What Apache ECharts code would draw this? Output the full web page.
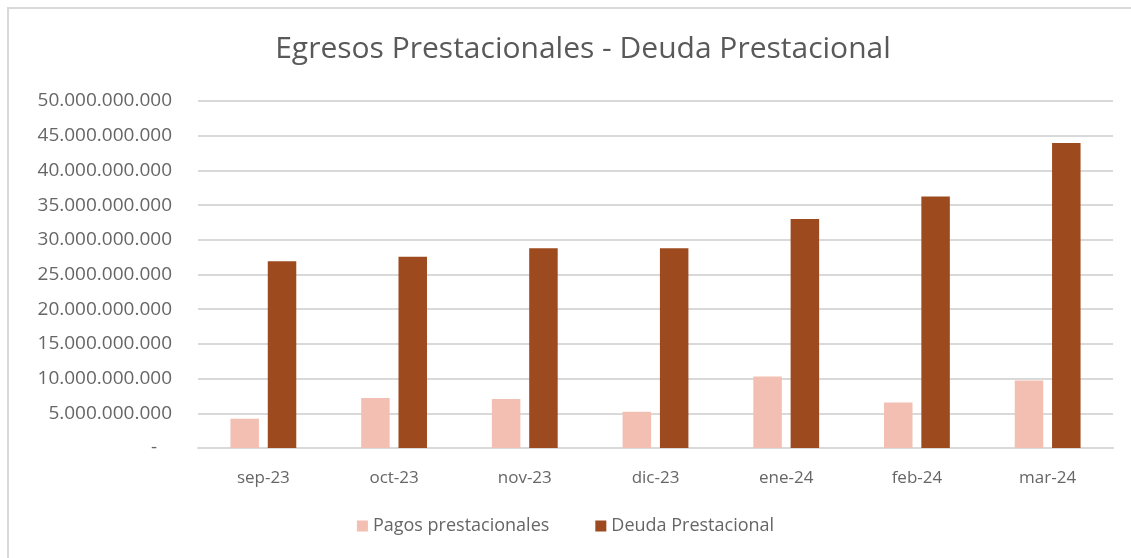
<!DOCTYPE html>
<html>
<head>
<meta charset="utf-8">
<title>Egresos Prestacionales - Deuda Prestacional</title>
<script src="https://cdn.jsdelivr.net/npm/echarts@6/dist/echarts.min.js"></script>
<style>
  html, body { margin: 0; padding: 0; background: #fff; }
  #frame {
    position: absolute; left: 7px; top: 7px; width: 1130px; height: 560px;
    border-left: 2px solid #d9d9d9; border-top: 2px solid #d9d9d9;
  }
  #chart { position: absolute; left: 0; top: 0; width: 1131px; height: 558px; }
</style>
</head>
<body>
<div id="frame"></div>
<div id="chart"></div>
<script>
// datos (valores en pesos)
const months = ['sep-23', 'oct-23', 'nov-23', 'dic-23', 'ene-24', 'feb-24', 'mar-24'];
const pagos = [4220000000, 7200000000, 7070000000, 5240000000, 10290000000, 6540000000, 9710000000];
const deuda = [26900000000, 27550000000, 28800000000, 28800000000, 32980000000, 36250000000, 43940000000];
const yMax = 50000000000;
const yStep = 5000000000;

const colors = ['#f2bfb2', '#9c4a1e'];

function fmt (v) {
  if (v === 0) {
    return '-   ';
  }
  return String(v).replace(/\B(?=(\d{3})+(?!\d))/g, '.');
}

const option = {
  color: colors,
  animation: false,
  textStyle: { fontFamily: 'Open Sans' },
  title: {
    text: 'Egresos Prestacionales - Deuda Prestacional',
    left: 578,
    top: 29,
    textAlign: 'center',
    textStyle: { fontFamily: 'Open Sans', fontSize: 30, fontWeight: 'normal', color: '#595959' }
  },
  legend: {
    data: ['Pagos prestacionales', 'Deuda Prestacional'],
    bottom: 18,
    left: 'center',
    itemWidth: 11,
    itemHeight: 11,
    itemGap: 46,
    icon: 'rect',
    textStyle: { fontFamily: 'Open Sans', fontSize: 18, color: '#666666' }
  },
  grid: { left: 198, right: 18, top: 101, bottom: 110 },
  xAxis: {
    type: 'category',
    data: months,
    axisTick: { show: false },
    axisLine: { lineStyle: { color: '#d9d9d9', width: 2 } },
    axisLabel: { fontFamily: 'Open Sans', fontSize: 17, color: '#666666', margin: 22 }
  },
  yAxis: {
    type: 'value',
    min: 0,
    max: yMax,
    interval: yStep,
    axisLine: { show: false },
    axisTick: { show: false },
    splitLine: { lineStyle: { color: '#d9d9d9', width: 2 } },
    axisLabel: { fontFamily: 'Open Sans', fontSize: 19, color: '#666666', margin: 26, formatter: fmt }
  },
  series: [
    {
      name: 'Pagos prestacionales',
      type: 'bar',
      data: pagos,
      barWidth: '21.8%',
      barGap: '31%'
    },
    {
      name: 'Deuda Prestacional',
      type: 'bar',
      data: deuda,
      barWidth: '21.8%',
      barGap: '31%'
    }
  ]
};

const myChart = echarts.init(document.getElementById('chart'));
myChart.setOption(option);
</script>
</body>
</html>
